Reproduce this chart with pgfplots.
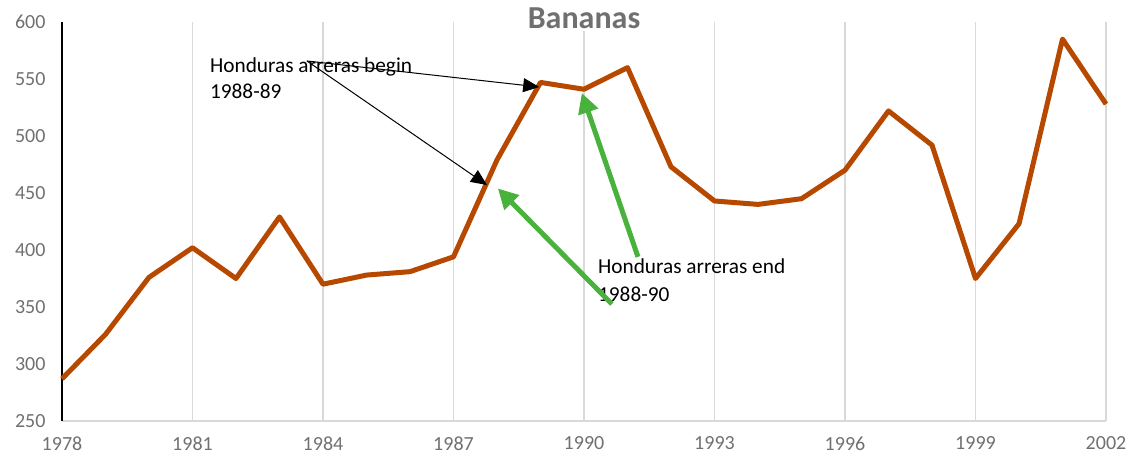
\documentclass[border=0pt]{standalone}
\usepackage{fontspec}
\setmainfont{Carlito}
\usepackage{pgfplots}
\pgfplotsset{compat=1.18}
\usetikzlibrary{arrows.meta}
\definecolor{bananaline}{RGB}{183,72,0}
\definecolor{arrowgreen}{RGB}{72,178,60}
\definecolor{ticktext}{RGB}{112,112,112}
\definecolor{gridgray}{RGB}{217,217,217}
\begin{document}
\begin{tikzpicture}
\begin{axis}[
    at={(0,0)}, anchor=south west,
    scale only axis, width=1044pt, height=399pt,
    xmin=1978, xmax=2002, ymin=250, ymax=600,
    xtick={1978,1981,...,2002}, ytick={250,300,...,600},
    xmajorgrids, grid style={gridgray, line width=1.5pt},
    axis x line*=bottom, axis y line*=left,
    x axis line style={gridgray, line width=2pt, -},
    y axis line style={black, line width=2pt, -},
    major tick length=0pt,
    tick label style={font=\fontsize{20}{24}\selectfont, text=ticktext},
    /pgf/number format/assume math mode=true,
    xticklabel style={/pgf/number format/1000 sep={}, yshift=-12pt},
    yticklabel style={xshift=-13pt},
    title={Bananas},
    title style={at={(0.5,1)}, anchor=base, yshift=-13pt, fill=white, inner sep=2pt,
        font=\bfseries\fontsize{32}{36}\selectfont, text=ticktext},
    clip=false,
]
\addplot[bananaline, line width=5pt, line join=round] coordinates {
    (1978,287) (1979,326) (1980,376) (1981,402) (1982,375)
    (1983,429) (1984,370) (1985,378) (1986,381) (1987,394)
    (1988,479) (1989,547) (1990,541) (1991,560) (1992,473)
    (1993,443) (1994,440) (1995,445) (1996,470) (1997,522)
    (1998,492) (1999,375) (2000,423) (2001,585) (2002,528)
};

% annotations
\node[anchor=base west, inner sep=0, font=\fontsize{21.3}{25}\selectfont] at (axis cs:1981.4,556) {Honduras arreras begin};
\node[anchor=base west, inner sep=0, font=\fontsize{21.3}{25}\selectfont] at (axis cs:1981.4,533.3) {1988-89};
\node[anchor=base west, inner sep=0, font=\fontsize{21.3}{25}\selectfont] at (axis cs:1990.32,379) {Honduras arreras end};
\node[anchor=base west, inner sep=0, font=\fontsize{21.3}{25}\selectfont] at (axis cs:1990.32,355) {1988-90};

\draw[black, line width=1pt, -{Triangle[length=16pt,width=14pt]}] (axis cs:1983.63,565.8) -- (axis cs:1988.97,543);
\draw[black, line width=1pt, -{Triangle[length=16pt,width=14pt]}] (axis cs:1983.63,565.8) -- (axis cs:1987.77,457);
\draw[arrowgreen, line width=5pt, -{Triangle[length=20pt,width=20pt]}] (axis cs:1990.64,352.6) -- (axis cs:1988.02,454);
\draw[arrowgreen, line width=5pt, -{Triangle[length=20pt,width=20pt]}] (axis cs:1991.24,394) -- (axis cs:1989.95,537.7);
\end{axis}
\pgfresetboundingbox
\path (-62pt,-43pt) rectangle (1074pt,421pt);
\end{tikzpicture}
\end{document}
